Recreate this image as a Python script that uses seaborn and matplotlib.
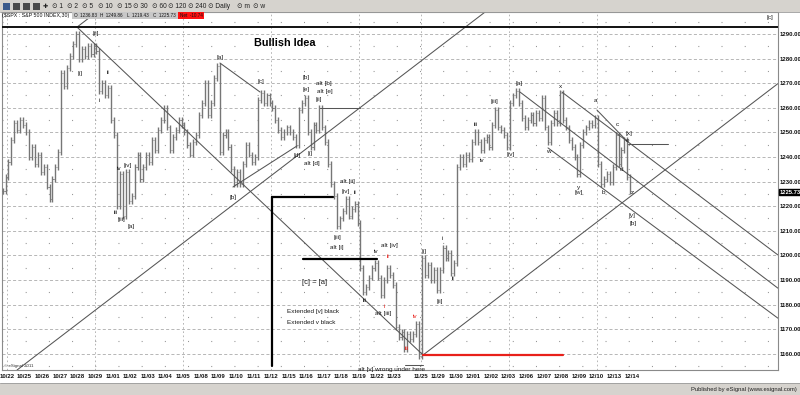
import numpy as np
import pandas as pd
import matplotlib
matplotlib.use("Agg")
import matplotlib.pyplot as plt
from matplotlib.patches import Rectangle
import seaborn as sns

# ---------------- data ----------------
# trading sessions (x in "day" units; 0 = boundary labelled 10/22)
session_start = [-0.33, 0, 1, 2, 3, 4, 5, 6, 7, 8, 9, 10, 11, 12, 13, 14, 15, 16, 17, 18,
                 19, 20, 21, 22, 23, 23.5, 24.5, 25.5, 26.5, 27.5, 28.5, 29.5, 30.5, 31.5,
                 32.5, 33.5, 34.5]
session_len = [0.33] + [1] * 23 + [0.5] + [1] * 12
closes = [
    [1226, 1232],
    [1238, 1247, 1254, 1251, 1255, 1253],
    [1250, 1240, 1244, 1237, 1241, 1234],
    [1236, 1228, 1223, 1231, 1236, 1242],
    [1274, 1269, 1276, 1281, 1286, 1290],
    [1280, 1284, 1281, 1285, 1282, 1285],
    [1283, 1267, 1270, 1265, 1268, 1255],
    [1249, 1220, 1233, 1216, 1234, 1222],
    [1224, 1236, 1241, 1231, 1236, 1241],
    [1238, 1247, 1243, 1251, 1255, 1260],
    [1252, 1243, 1248, 1251, 1255, 1253],
    [1250, 1245, 1241, 1246, 1249, 1257],
    [1262, 1270, 1257, 1262, 1272, 1277],
    [1242, 1249, 1250, 1244, 1235, 1229],
    [1234, 1229, 1237, 1245, 1241, 1238],
    [1240, 1263, 1266, 1262, 1265, 1262],
    [1260, 1255, 1251, 1248, 1250, 1252],
    [1250, 1248, 1245, 1259, 1262, 1264],
    [1250, 1244, 1253, 1251, 1260, 1252],
    [1246, 1237, 1229, 1224, 1212, 1215],
    [1218, 1223, 1216, 1219, 1221, 1213],
    [1195, 1185, 1187, 1191, 1195, 1197],
    [1191, 1184, 1190, 1195, 1192, 1188],
    [1171, 1167, 1169, 1162, 1168, 1166],
    [1168, 1172, 1159],
    [1199, 1192, 1196, 1190, 1194, 1186],
    [1194, 1203, 1199, 1201, 1193, 1197],
    [1236, 1240, 1237, 1241, 1239, 1246],
    [1250, 1246, 1243, 1247, 1248, 1244],
    [1253, 1259, 1252, 1251, 1249, 1244],
    [1262, 1265, 1267, 1262, 1256, 1252],
    [1255, 1257, 1254, 1258, 1256, 1264],
    [1252, 1246, 1254, 1258, 1254, 1266],
    [1255, 1252, 1247, 1244, 1240, 1233],
    [1245, 1250, 1252, 1254, 1253, 1256],
    [1237, 1229, 1231, 1233, 1230, 1236],
    [1249, 1237, 1243, 1247, 1232, 1226],
]
tick_labels = ["10/22", "10/25", "10/26", "10/27", "10/28", "10/29", "11/01", "11/02", "11/03",
               "11/04", "11/05", "11/08", "11/09", "11/10", "11/11", "11/12", "11/15", "11/16",
               "11/17", "11/18", "11/19", "11/22", "11/23", "11/25", "11/29", "11/30", "12/01",
               "12/02", "12/03", "12/06", "12/07", "12/08", "12/09", "12/10", "12/13", "12/14"]
tick_pos = list(range(0, 23)) + [23.5 + k for k in range(13)]
week_starts = [0, 5, 10, 15, 20, 23.5, 28.5, 33.5]
price_ticks = list(range(1160, 1300, 10))
last_price = 1225.73

# drawn trendlines: (x0, p0, x1, p1)
gray_lines = [
    (0.57, 1153.4, 27.16, 1298.9),
    (23.64, 1159.5, 43.8, 1269.8),
    (3.98, 1292.8, 6.0, 1303.9),
    (3.98, 1292.8, 23.64, 1159.5),
    (12.1, 1278.2, 14.38, 1266.4),
    (12.84, 1227.8, 16.48, 1244.5),
    (29.15, 1266.4, 43.8, 1186.7),
    (30.74, 1243.7, 43.8, 1174.5),
    (31.53, 1266.4, 43.8, 1200.2),
    (33.52, 1259.1, 35.28, 1246.1),
    (17.78, 1259.9, 20.06, 1259.9),
    (35.28, 1245.3, 37.56, 1245.3),
    (22.6, 1155.6, 23.64, 1155.6),
]
black_lines = [
    (15.06, 1223.7, 18.52, 1223.7),
    (15.06, 1223.7, 15.06, 1155.0),
    (16.82, 1198.5, 21.02, 1198.5),
]
red_lines = [(23.64, 1159.5, 31.6, 1159.5)]
top_line = 1292.8

# ---------------- figure ----------------
sns.set_theme(style="white")
plt.rcParams['font.family'] = ['Liberation Sans', 'DejaVu Sans']
plt.rcParams['lines.scale_dashes'] = False

W, H = 800, 395
fig = plt.figure(figsize=(8, 3.95), dpi=100)
fig.patch.set_facecolor('white')
ax = fig.add_axes([2 / W, 1 - 370 / H, 776 / W, 358 / H])
ax.set_facecolor('white')
xmin, xmax = -0.284, 43.81
ymin, ymax = 1153.41, 1298.94
ax.set_xlim(xmin, xmax)
ax.set_ylim(ymin, ymax)

# grid
for p in price_ticks:
    ax.axhline(p, color='#ababab', lw=0.6, ls=(0, (2.2, 1.6)), zorder=0)
for p in range(1155, 1300, 10):
    ax.axhline(p, color='#909090', lw=0.8, ls=(0, (0.7, 16)), zorder=0)
for d in week_starts:
    ax.axvline(d, color='#ababab', lw=0.6, ls=(0, (1.2, 1.8)), zorder=0)

# bars
rows = []
for s, L, cs in zip(session_start, session_len, closes):
    n = len(cs)
    for i, c in enumerate(cs):
        rows.append((s + (i + 0.5) * L / n, c))
df = pd.DataFrame(rows, columns=['d', 'close'])
df['open'] = df['close'].shift(1).fillna(df['close'])
df['lo'] = np.minimum(df['open'], df['close']) - 1.2
df['hi'] = np.maximum(df['open'], df['close']) + 1.2
bar_col = '#767676'
ax.vlines(df['d'], df['lo'], df['hi'], color=bar_col, lw=1.0, zorder=3)
ax.hlines(df['open'], df['d'] - 0.06, df['d'], color=bar_col, lw=0.6, zorder=3)
ax.hlines(df['close'], df['d'], df['d'] + 0.06, color=bar_col, lw=0.6, zorder=3)

# trendlines
def draw(lines, color, lw):
    for x0, p0, x1, p1 in lines:
        seg = pd.DataFrame({'x': [x0, x1], 'y': [p0, p1]})
        sns.lineplot(data=seg, x='x', y='y', ax=ax, color=color, lw=lw, sort=False,
                     estimator=None, zorder=4)

draw(gray_lines, '#555555', 0.75)
draw(black_lines, '#000000', 1.6)
draw(red_lines, '#e8201a', 1.6)
ax.axhline(top_line, color='#111111', lw=1.4, zorder=4)

# axes / ticks
ax.set_xlabel('')
ax.set_ylabel('')
ax.yaxis.tick_right()
ax.set_yticks(price_ticks)
ax.set_yticklabels([f"{p:.2f}" for p in price_ticks])
ax.set_xticks(tick_pos)
ax.set_xticklabels(tick_labels)
ax.tick_params(axis='y', length=0, pad=1.2, labelsize=4.3, colors='#111111')
ax.tick_params(axis='x', length=0, pad=3, labelsize=4.3, colors='#111111')
for t in ax.get_xticklabels():
    t.set_fontweight('bold')
for t in ax.get_yticklabels():
    t.set_fontweight('bold')
for sp in ax.spines.values():
    sp.set_color('#8a8a8a')
    sp.set_linewidth(0.8)

# last price box
ax.text(1.002, (last_price - ymin) / (ymax - ymin), f"{last_price:.2f}", transform=ax.transAxes,
        fontsize=4.2, color='white', ha='left', va='center', fontweight='bold',
        bbox=dict(boxstyle='square,pad=0.12', fc='black', ec='black'), zorder=10)

# ---------------- annotations (pixel layout) ----------------
def ptext(x, y, s, size=4.6, color='#1a1a1a', weight='normal', ha='center'):
    fig.text(x / W, 1 - y / H, s, fontsize=size, color=color, fontweight=weight,
             ha=ha, va='center', zorder=20)

labels = [
    ("[ii]", 96, 33), ("[i]", 80, 73), ("ii", 108, 73), ("i", 99, 100), ("iv", 119, 168),
    ("[iv]", 128, 166), ("iii", 116, 213), ("[iii]", 121, 220), ("[a]", 131, 227),
    ("[a]", 220, 58), ("[b]", 233, 197), ("[c]", 261, 82), ("[b]", 306, 78), ("[e]", 306, 90),
    ("alt [b]", 324, 83), ("alt [e]", 325, 92), ("[ii]", 319, 100), ("[d]", 297, 155),
    ("[i]", 310, 153), ("alt [d]", 312, 163), ("alt [ii]", 347, 181), ("[iv]", 346, 191),
    ("ii", 355, 193), ("[iii]", 337, 238), ("alt [i]", 337, 247), ("iv", 376, 252),
    ("alt [iv]", 389, 245), ("iii", 365, 301), ("alt [iii]", 383, 314), ("[i]", 424, 252),
    ("[ii]", 440, 301), ("i", 442, 239), ("ii", 453, 279), ("iii", 476, 124), ("iv", 482, 161),
    ("[iii]", 494, 102), ("[iv]", 511, 154), ("[a]", 519, 84), ("x", 561, 87), ("w", 548, 151),
    ("y", 579, 187), ("[w]", 579, 193), ("a", 596, 101), ("c", 617, 125), ("[x]", 629, 133),
    ("b", 603, 193), ("d", 621, 169), ("e", 628, 140), ("z", 632, 193), ("[y]", 632, 216),
    ("[b]", 633, 223), ("[c]", 770, 18),
]
for s, x, y in labels:
    ptext(x, y, s)
red_labels = [("ii", 388, 257), ("i", 384, 307), ("iv", 415, 316), ("iii", 407, 349)]
for s, x, y in red_labels:
    ptext(x, y, s, color='#e8201a')

ptext(285, 43, "Bullish Idea", size=7.8, weight='bold', color='#000000')
ptext(315, 283, "[c] = [a]", size=5.4)
ptext(287, 312, "Extended [v] black", size=4.6, ha='left')
ptext(287, 323, "Extended v black", size=4.6, ha='left')
ptext(358, 369, "alt [v] wrong under here", size=4.6, ha='left')
ptext(4, 366, "© eSignal 2011", size=3.2, ha='left', color='#333333')

# toolbar
fig.patches.append(Rectangle((0, 1 - 12 / H), 1, 12 / H, transform=fig.transFigure,
                             fc='#d6d3ce', ec='none', zorder=1))
fig.add_artist(plt.Line2D([0, 1], [1 - 12 / H, 1 - 12 / H], transform=fig.transFigure,
                          color='#9a9a9a', lw=0.6))
icon_cols = ['#3a5a8c', '#4a4a4a', '#4a4a4a', '#4a4a4a']
for i, c in enumerate(icon_cols):
    fig.patches.append(Rectangle(((3 + i * 10) / W, 1 - 10 / H), 7 / W, 7 / H,
                                 transform=fig.transFigure, fc=c, ec='none', zorder=2))
ptext(45, 6, "✚", size=4.5, color='#202020')
tb_items = [("1", 52), ("2", 67), ("5", 82), ("10", 98), ("15", 117), ("30", 133), ("60", 152),
            ("120", 168), ("240", 188), ("Daily", 208), ("m", 237), ("w", 253)]
for s, x in tb_items:
    ptext(x, 6, "⊙ " + s, size=4.8, ha='left', color='#202020')

# title row
ptext(2, 16, "($SPX : S&P 500 INDEX,30)", size=3.8, ha='left', color='#111111')
fig.patches.append(Rectangle((72 / W, 1 - 19 / H), 106 / W, 7 / H, transform=fig.transFigure,
                             fc='#c8c8c8', ec='none', zorder=15))
fig.patches.append(Rectangle((178 / W, 1 - 19 / H), 26 / W, 7 / H, transform=fig.transFigure,
                             fc='#ff1010', ec='none', zorder=15))
ohlc = [("O  1236.83", 74), ("H  1249.86", 100), ("L  1219.43", 127), ("C  1225.73", 153),
        ("Net  -10.74", 180)]
for s, x in ohlc:
    ptext(x, 15.5, s, size=3.3, ha='left', color='#111111')

# status bar
fig.patches.append(Rectangle((0, 0), 1, 12 / H, transform=fig.transFigure,
                             fc='#d6d3ce', ec='none', zorder=1))
fig.add_artist(plt.Line2D([0, 1], [12 / H, 12 / H], transform=fig.transFigure,
                          color='#9a9a9a', lw=0.6))
ptext(797, 389, "Published by eSignal (www.esignal.com)", size=4.2, ha='right', color='#202020')

fig.savefig("out.png", dpi=100, facecolor='white')
